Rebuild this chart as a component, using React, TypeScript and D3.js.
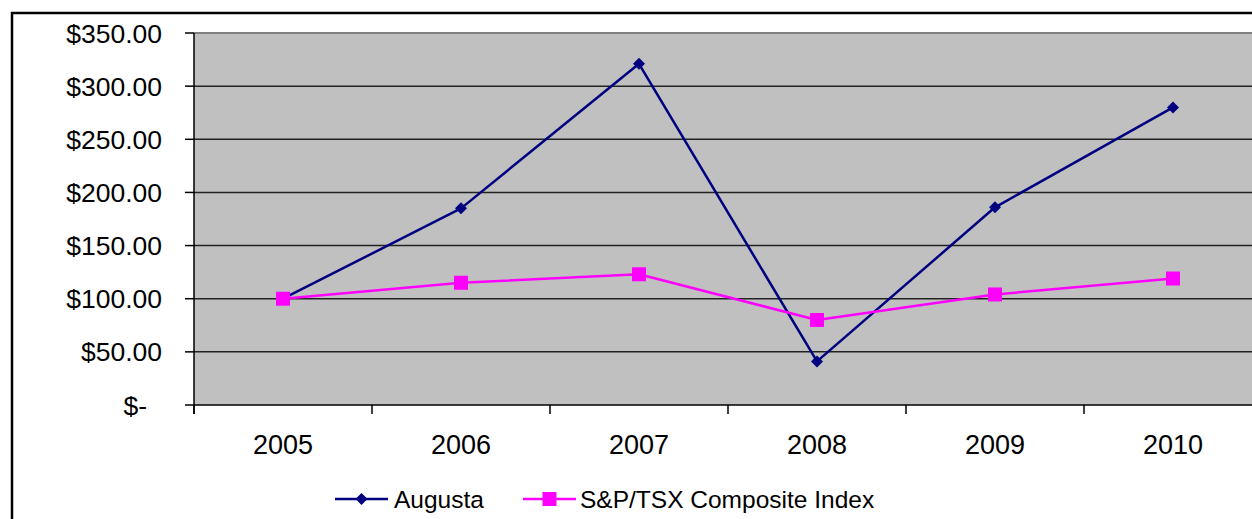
import React from 'react';
import { scaleBand, scaleLinear, line, symbol, symbolSquare } from 'd3';

const years = ['2005', '2006', '2007', '2008', '2009', '2010'];
const augusta = [100, 185, 321, 41, 186, 280];
const tsx = [100, 115, 123, 80, 104, 119];
const yTicks = [0, 50, 100, 150, 200, 250, 300, 350];
const seriesNames = ['Augusta', 'S&P/TSX Composite Index'];

const W = 1252;
const H = 519;
const FONT = '"Liberation Sans", Arial, sans-serif';

const fmt = (v: number) => (v === 0 ? '$-' : '$' + v.toFixed(2));

export default function App() {
  // plot area
  const left = 194, top = 33, bottom = 405, band = 178;

  const x = scaleBand<string>().domain(years).range([left, left + band * years.length]).padding(0);
  const y = scaleLinear().domain([0, 350]).range([bottom, top]);
  const cx = (yr: string) => (x(yr) as number) + x.bandwidth() / 2;

  const lineGen = line<number>()
    .x((_, i) => cx(years[i]))
    .y((d) => y(d));

  // diamond = small square turned 45 degrees
  const diamond = symbol().type(symbolSquare).size(72)() as string;
  const square = symbol().type(symbolSquare).size(196)() as string;

  const series = [
    { name: seriesNames[0], data: augusta, color: '#000080', marker: diamond, rot: 45 },
    { name: seriesNames[1], data: tsx, color: '#FF00FF', marker: square, rot: 0 },
  ];

  const legendItems = [
    { lx: 335, tx: 394 },
    { lx: 523, tx: 580 },
  ];

  return (
    <svg width={W} height={H} style={{ position: 'absolute', left: 0, top: 0 }} fontFamily={FONT}>
      <rect x={0} y={0} width={W} height={H} fill="#fff" />
      {/* chart border */}
      <rect x={12} y={13} width={W + 40} height={H + 40} fill="none" stroke="#000" strokeWidth={2.5} />

      {/* plot background */}
      <rect x={left} y={top} width={x.range()[1] - left} height={bottom - top} fill="#C0C0C0" />
      <line x1={left} x2={W} y1={top} y2={top} stroke="#808080" strokeWidth={2} />

      {/* gridlines + y ticks */}
      {yTicks.map((t) => (
        <g key={t}>
          {t > 0 && t < 350 && (
            <line x1={left} x2={W} y1={y(t)} y2={y(t)} stroke="#222" strokeWidth={1.5} />
          )}
          <line x1={left - 9} x2={left} y1={y(t)} y2={y(t)} stroke="#000" strokeWidth={1.5} />
          <text
            x={t === 0 ? 147 : 162}
            y={y(t)}
            dy="0.36em"
            textAnchor="end"
            fontSize={26.5}
            fill="#000"
          >
            {fmt(t)}
          </text>
        </g>
      ))}

      {/* axes */}
      <line x1={left} x2={left} y1={top} y2={bottom + 9} stroke="#000" strokeWidth={1.5} />
      <line x1={left} x2={W} y1={bottom} y2={bottom} stroke="#000" strokeWidth={1.5} />
      {years.map((yr) => (
        <g key={yr}>
          <line x1={x(yr)} x2={x(yr)} y1={bottom} y2={bottom + 9} stroke="#000" strokeWidth={1.5} />
          <text x={cx(yr)} y={454} textAnchor="middle" fontSize={27} fill="#000">
            {yr}
          </text>
        </g>
      ))}

      {/* series */}
      {series.map((s) => (
        <g key={s.name}>
          <path d={lineGen(s.data) as string} fill="none" stroke={s.color} strokeWidth={2.5} strokeLinejoin="round" />
          {s.data.map((v, i) => (
            <path
              key={i}
              d={s.marker}
              transform={`translate(${cx(years[i])},${y(v)}) rotate(${s.rot})`}
              fill={s.color}
            />
          ))}
        </g>
      ))}

      {/* legend */}
      {series.map((s, i) => (
        <g key={s.name}>
          <line x1={legendItems[i].lx} x2={legendItems[i].lx + 53} y1={499} y2={499} stroke={s.color} strokeWidth={2.5} />
          <path d={s.marker} transform={`translate(${legendItems[i].lx + 26.5},499) rotate(${s.rot})`} fill={s.color} />
          <text x={legendItems[i].tx} y={499} dy="0.36em" fontSize={24.5} fill="#000">
            {s.name}
          </text>
        </g>
      ))}
    </svg>
  );
}
